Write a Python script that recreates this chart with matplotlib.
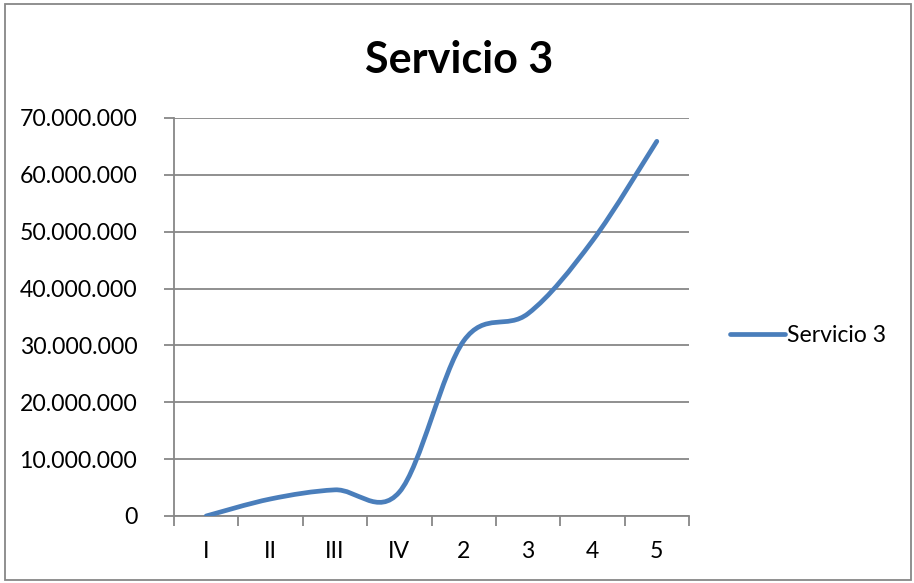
import matplotlib
matplotlib.use("Agg")
import matplotlib.pyplot as plt
from matplotlib.path import Path
from matplotlib.patches import PathPatch, Rectangle
from matplotlib.lines import Line2D
from matplotlib.ticker import FuncFormatter, FixedLocator, MultipleLocator
import numpy as np

categories = ["I", "II", "III", "IV", "2", "3", "4", "5"]
values = [0, 3000000, 4600000, 4200000, 30800000, 35600000, 48400000, 65900000]
series_name = "Servicio 3"
title = "Servicio 3"

FONT = ["Lato", "DejaVu Sans"]
plt.rcParams["font.family"] = FONT

fig = plt.figure(figsize=(9.14, 5.83), dpi=100)
ax = fig.add_axes([174/914, 1-516/583, (689-174)/914, (516-118)/583])

x = np.arange(len(values), dtype=float)
y = np.array(values, dtype=float)

# Excel-like smoothed curve (cubic Bezier, 1/6 tension)
verts = [(x[0], y[0])]
codes = [Path.MOVETO]
n = len(x)
for i in range(n - 1):
    xp, yp = (x[i-1], y[i-1]) if i > 0 else (x[i], y[i])
    xn2, yn2 = (x[i+2], y[i+2]) if i + 2 < n else (x[i+1], y[i+1])
    c1 = (x[i] + (x[i+1] - xp) / 6, y[i] + (y[i+1] - yp) / 6)
    c2 = (x[i+1] - (xn2 - x[i]) / 6, y[i+1] - (yn2 - y[i]) / 6)
    verts += [c1, c2, (x[i+1], y[i+1])]
    codes += [Path.CURVE4] * 3
color = "#4A7EBB"
patch = PathPatch(Path(verts, codes), facecolor="none", edgecolor=color,
                  linewidth=3.4, capstyle="round", joinstyle="round", zorder=3)
ax.add_patch(patch)

ax.set_xlim(-0.5, n - 0.5)
ax.set_ylim(0, 70000000)
ax.yaxis.set_major_locator(MultipleLocator(10000000))
ax.yaxis.set_major_formatter(FuncFormatter(lambda v, p: f"{int(v):,}".replace(",", ".")))
ax.grid(axis="y", color="#878787", linewidth=1.3)
ax.set_axisbelow(True)

ax.set_xticks(x)
ax.set_xticklabels(categories)
ax.xaxis.set_minor_locator(FixedLocator(np.arange(-0.5, n, 1.0)))
ax.tick_params(axis="x", which="major", length=0, pad=18, labelsize=16.6)
ax.tick_params(axis="x", which="minor", length=7, width=1.3, color="#878787")
ax.tick_params(axis="y", length=7, width=1.3, color="#878787", pad=19.5, labelsize=16.6)
for s in ["top", "right"]:
    ax.spines[s].set_visible(False)
for s in ["left", "bottom"]:
    ax.spines[s].set_color("#878787")
    ax.spines[s].set_linewidth(1.3)

fig.text(459/914, 1-60/583, title, ha="center", va="center",
         fontsize=31, fontweight="bold")

handle = Line2D([], [], color=color, linewidth=3.4, solid_capstyle="round")
fig.legend([handle], [series_name], loc="center left",
           bbox_to_anchor=(709/914, 1-336/583), frameon=False,
           handlelength=2.4, handletextpad=0.1, fontsize=16.6)

fig.add_artist(Rectangle((5/914, 3/583), 906/914, 576/583, transform=fig.transFigure,
                         fill=False, edgecolor="#878787", linewidth=1.3))

fig.savefig("out.png", dpi=100)
